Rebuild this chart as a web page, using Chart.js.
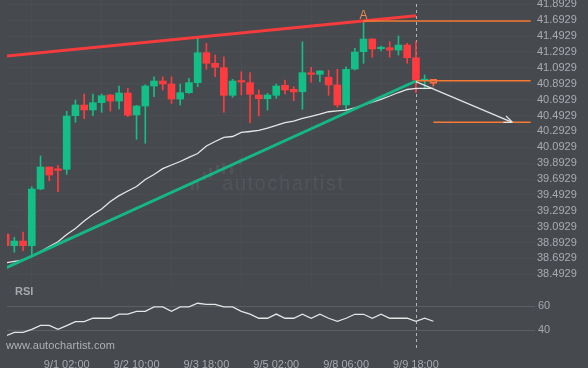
<!DOCTYPE html>
<html>
<head>
<meta charset="utf-8">
<script src="https://cdn.jsdelivr.net/npm/chart.js@4.4.0/dist/chart.umd.min.js"></script>
<style>
  html, body { margin: 0; padding: 0; background: #46494e; }
  #wrap { position: relative; width: 588px; height: 368px; overflow: hidden; background: #46494e;
          font-family: "Liberation Sans", Arial, sans-serif; }
  .box { position: absolute; left: 0; width: 588px; }
  #mainBox { top: 0; height: 285px; }
  #rsiBox { top: 285px; height: 83px; }
  .txt { position: absolute; white-space: nowrap; line-height: 1; }
  #rsiLbl { left: 15px; top: 286px; font-size: 11px; font-weight: bold; color: #a5a8ad; }
  #site { left: 6px; top: 340px; font-size: 11px; color: #aeb1b5; letter-spacing: 0.1px; }
  #wm { left: 222px; top: 173px; font-size: 20px; color: rgba(255,255,255,0.07); letter-spacing: 1.6px; }
  .wb { position: absolute; width: 3px; background: rgba(255,255,255,0.06); }
</style>
</head>
<body>
<div id="wrap">
  <!-- watermark -->
  <div class="wb" style="left:191px;top:182px;height:8px"></div>
  <div class="wb" style="left:196px;top:182px;height:8px"></div>
  <div class="wb" style="left:203px;top:172px;height:8px"></div>
  <div class="wb" style="left:209px;top:168px;height:11px"></div>
  <div class="wb" style="left:216px;top:165px;height:8px"></div>
  <div class="wb" style="left:222px;top:163px;height:11px"></div>
  <div class="wb" style="left:230px;top:167px;height:7px"></div>
  <div class="wb" style="left:239px;top:158px;height:7px"></div>
  <div class="txt" id="wm">autochartist</div>

  <div class="box" id="mainBox"><canvas id="mainChart" width="588" height="285"></canvas></div>
  <div class="box" id="rsiBox"><canvas id="rsiChart" width="588" height="83"></canvas></div>

  <div class="txt" id="rsiLbl">RSI</div>
  <div class="txt" id="site">www.autochartist.com</div>
</div>

<script>
  // time axis (one label every 8 candles)
  const timeIdx = [7, 15, 23, 31, 39, 47];
  const timeLabels = ["9/1 02:00", "9/2 10:00", "9/3 18:00", "9/5 02:00", "9/8 06:00", "9/9 18:00"];

  const priceTicks = [38.4929, 38.6929, 38.8929, 39.0929, 39.2929, 39.4929, 39.6929, 39.8929, 40.0929,
                      40.2929, 40.4929, 40.6929, 40.8929, 41.0929, 41.2929, 41.4929, 41.6929, 41.8929];
  const rsiTicks = [40, 60];

  // candles
  const openP = [39.000, 38.853, 38.912, 38.853, 39.567, 39.844, 39.813, 39.815, 40.490, 40.625,
                 40.562, 40.654, 40.751, 40.675, 40.776, 40.499, 40.612, 40.864, 40.927, 40.889,
                 40.700, 40.780, 40.906, 41.283, 41.150, 41.095, 40.747, 40.923, 40.906, 40.751,
                 40.704, 40.747, 40.873, 40.823, 40.792, 41.028, 41.011, 40.974, 40.877, 40.625,
                 41.078, 41.296, 41.456, 41.334, 41.346, 41.317, 41.380, 41.220, 40.931, 40.948];
  const highP = [39.005, 38.959, 39.026, 39.596, 39.983, 39.846, 39.865, 40.545, 40.688, 40.763,
                 40.763, 40.763, 40.760, 40.864, 40.835, 40.621, 40.880, 40.981, 40.981, 40.981,
                 40.889, 40.961, 41.465, 41.402, 41.254, 41.233, 40.948, 41.044, 41.032, 40.814,
                 40.772, 40.889, 40.940, 40.855, 41.422, 41.100, 41.058, 41.062, 41.074, 41.107,
                 41.339, 41.683, 41.460, 41.368, 41.422, 41.494, 41.402, 41.422, 41.003, 40.948];
  const lowP = [38.850, 38.770, 38.790, 38.727, 39.558, 39.672, 39.533, 39.752, 40.407, 40.452,
                40.490, 40.533, 40.549, 40.574, 40.477, 40.193, 40.143, 40.729, 40.814, 40.646,
                40.625, 40.772, 40.855, 41.074, 40.981, 40.533, 40.722, 40.751, 40.402, 40.486,
                40.562, 40.709, 40.763, 40.679, 40.571, 40.911, 40.918, 40.747, 40.596, 40.562,
                41.066, 41.150, 41.226, 41.305, 41.226, 41.254, 41.150, 40.780, 40.826, 40.864];
  const closeP = [38.853, 38.912, 38.853, 39.567, 39.844, 39.743, 39.802, 40.486, 40.625, 40.562,
                  40.654, 40.742, 40.675, 40.776, 40.495, 40.612, 40.864, 40.927, 40.889, 40.700,
                  40.780, 40.906, 41.283, 41.150, 41.100, 40.747, 40.927, 40.914, 40.760, 40.704,
                  40.751, 40.864, 40.814, 40.789, 41.032, 41.011, 41.053, 40.877, 40.625, 41.074,
                  41.292, 41.456, 41.330, 41.343, 41.317, 41.380, 41.220, 40.940, 40.936, 40.898];

  // moving average
  const ma = [38.638, 38.656, 38.670, 38.717, 38.780, 38.843, 38.902, 38.994, 39.070, 39.164,
              39.246, 39.315, 39.410, 39.483, 39.542, 39.599, 39.687, 39.750, 39.823, 39.869,
              39.913, 39.966, 40.014, 40.109, 40.165, 40.216, 40.228, 40.279, 40.291, 40.304,
              40.335, 40.367, 40.402, 40.423, 40.455, 40.483, 40.509, 40.540, 40.552, 40.559,
              40.590, 40.625, 40.660, 40.697, 40.738, 40.782, 40.820, 40.835, 40.835, 40.835];

  // RSI
  const rsi = [35.0, 38.1, 38.1, 40.6, 43.9, 43.9, 40.6, 43.6, 46.9, 46.9,
               49.8, 49.8, 49.8, 53.3, 53.3, 55.6, 55.6, 59.2, 59.2, 55.6,
               59.2, 59.2, 62.3, 61.4, 61.4, 59.2, 59.2, 55.6, 53.3, 49.8,
               49.8, 53.3, 49.8, 49.8, 53.1, 49.8, 53.1, 49.8, 47.3, 49.8,
               53.1, 53.1, 49.8, 53.1, 49.8, 49.8, 49.8, 47.3, 49.8, 47.3];

  // pattern lines
  const resistX = [0, 47];
  const resistY = [41.240, 41.749];
  const supportX = [0, 47];
  const supportY = [38.571, 40.927];
  const levelStart = [41, 47, 49];
  const levelEnd = [60.15, 60.15, 60.15];
  const levelY = [41.683, 40.931, 40.407];
  const arrowX = [47, 58.04];
  const arrowY = [40.918, 40.407];
  const patternIdx = 41;   // point "A"
  const signalIdx = 47;    // dashed vertical line

  const xMin = 0.16, xMax = 60.64;
  const upColor = "#12bf86", downColor = "#ff3b3f", hollowColor = "#ff6b3d";
  const lastIdx = openP.length - 1;

  Chart.defaults.font.family = '"Liberation Sans", Arial, sans-serif';
  Chart.defaults.animation = false;

  const idx = openP.map((v, i) => i);
  const candleColor = idx.map(i => closeP[i] >= openP[i] ? upColor : downColor);

  // dashed line at the signal candle
  const signalLine = {
    id: "signalLine",
    beforeDatasetsDraw(chart, args, opts) {
      const x = Math.round(chart.scales.x.getPixelForValue(signalIdx)) + 0.5;
      const ctx = chart.ctx;
      ctx.save();
      ctx.strokeStyle = "#b2b5b9";
      ctx.lineWidth = 1;
      ctx.setLineDash([3, 3]);
      ctx.beginPath();
      ctx.moveTo(x, opts.top);
      ctx.lineTo(x, chart.chartArea.bottom + opts.extra);
      ctx.stroke();
      ctx.restore();
    }
  };

  // arrow head and the "A" label
  const marks = {
    id: "marks",
    afterDatasetsDraw(chart) {
      const xs = chart.scales.x, ys = chart.scales.y, ctx = chart.ctx;
      const x0 = xs.getPixelForValue(arrowX[0]), y0 = ys.getPixelForValue(arrowY[0]);
      const x1 = xs.getPixelForValue(arrowX[1]), y1 = ys.getPixelForValue(arrowY[1]);
      const ang = Math.atan2(y1 - y0, x1 - x0);
      ctx.save();
      ctx.strokeStyle = "#e4e4e4";
      ctx.lineWidth = 1.3;
      ctx.beginPath();
      [-0.4, 0.4].forEach(d => {
        ctx.moveTo(x1, y1);
        ctx.lineTo(x1 - 9 * Math.cos(ang + d), y1 - 9 * Math.sin(ang + d));
      });
      ctx.stroke();

      ctx.fillStyle = "#ee8a4e";
      ctx.font = '12px "Liberation Sans", Arial, sans-serif';
      ctx.textAlign = "center";
      ctx.textBaseline = "alphabetic";
      ctx.fillText("A", xs.getPixelForValue(patternIdx), ys.getPixelForValue(highP[patternIdx]) - 2);
      ctx.restore();
    }
  };

  const barBase = { type: "bar", grouped: false, barPercentage: 1, categoryPercentage: 1, clip: 0 };
  const lineBase = { type: "line", pointRadius: 0, tension: 0, fill: false, clip: 0 };

  const levelSets = levelY.map((v, k) => Object.assign({}, lineBase, {
    data: [{ x: levelStart[k], y: v }, { x: levelEnd[k], y: v }],
    borderColor: "#f57a33", borderWidth: 1.5, order: 2
  }));

  new Chart(document.getElementById("mainChart"), {
    type: "bar",
    data: {
      datasets: [
        Object.assign({}, barBase, {
          data: idx.map(i => ({ x: i, y: [openP[i], closeP[i]] })),
          backgroundColor: idx.map(i => i === lastIdx ? "rgba(0,0,0,0)" : candleColor[i]),
          borderColor: idx.map(i => i === lastIdx ? hollowColor : candleColor[i]),
          borderWidth: idx.map(i => i === lastIdx ? 1 : 0),
          borderSkipped: false,
          maxBarThickness: 7,
          minBarLength: 1.5,
          order: 5
        }),
        Object.assign({}, barBase, {
          data: idx.map(i => ({ x: i, y: [Math.max(openP[i], closeP[i]), highP[i]] })),
          backgroundColor: idx.map(i => i === lastIdx ? hollowColor : candleColor[i]),
          maxBarThickness: 1,
          order: 6
        }),
        Object.assign({}, barBase, {
          data: idx.map(i => ({ x: i, y: [lowP[i], Math.min(openP[i], closeP[i])] })),
          backgroundColor: idx.map(i => i === lastIdx ? hollowColor : candleColor[i]),
          maxBarThickness: 1,
          order: 6
        }),
        Object.assign({}, lineBase, {
          data: idx.map(i => ({ x: i, y: ma[i] })),
          borderColor: "#e6e6e6", borderWidth: 1.3, order: 4
        }),
        Object.assign({}, lineBase, {
          data: supportX.map((x, k) => ({ x: x, y: supportY[k] })),
          borderColor: "#14b886", borderWidth: 3, order: 3
        }),
        Object.assign({}, lineBase, {
          data: resistX.map((x, k) => ({ x: x, y: resistY[k] })),
          borderColor: "#f53c3c", borderWidth: 3, order: 3
        }),
        ...levelSets,
        Object.assign({}, lineBase, {
          data: arrowX.map((x, k) => ({ x: x, y: arrowY[k] })),
          borderColor: "#e4e4e4", borderWidth: 1.3, order: 1
        })
      ]
    },
    options: {
      responsive: false,
      layout: { padding: { left: 7, right: 0, top: 0, bottom: 0 } },
      plugins: { legend: { display: false }, tooltip: { enabled: false }, signalLine: { top: 4, extra: 0 } },
      scales: {
        x: {
          type: "linear", min: xMin, max: xMax, offset: false,
          ticks: { display: false },
          grid: { color: "rgba(255,255,255,0.025)", drawTicks: false },
          border: { display: false },
          afterBuildTicks: s => { s.ticks = timeIdx.map(v => ({ value: v })); },
          afterFit: s => { s.height = 0; s.paddingLeft = 0; s.paddingRight = 0; }
        },
        y: {
          position: "right", min: 38.3581, max: 41.9471,
          ticks: { color: "#a9acb1", font: { size: 11 }, padding: 2, autoSkip: false,
                   callback: v => v.toFixed(4) },
          grid: { color: "rgba(255,255,255,0.025)", drawTicks: false },
          border: { display: false },
          afterBuildTicks: s => { s.ticks = priceTicks.map(v => ({ value: v })); },
          afterFit: s => { s.width = 53; s.paddingTop = 0; s.paddingBottom = 0; }
        }
      }
    },
    plugins: [signalLine, marks]
  });

  new Chart(document.getElementById("rsiChart"), {
    type: "line",
    data: {
      datasets: [Object.assign({}, lineBase, {
        data: idx.map(i => ({ x: i, y: rsi[i] })),
        borderColor: "#e6e6e6", borderWidth: 1.3
      })]
    },
    options: {
      responsive: false,
      layout: { padding: { left: 7, right: 0, top: 0, bottom: 0 } },
      plugins: { legend: { display: false }, tooltip: { enabled: false }, signalLine: { top: 0, extra: 2 } },
      scales: {
        x: {
          type: "linear", min: xMin, max: xMax, offset: false,
          ticks: { color: "#a6a9ae", font: { size: 11 }, padding: 2, maxRotation: 0, autoSkip: false,
                   callback: v => timeLabels[timeIdx.indexOf(v)] },
          grid: { display: false },
          border: { display: false },
          afterBuildTicks: s => { s.ticks = timeIdx.map(v => ({ value: v })); },
          afterFit: s => { s.height = 20; s.paddingLeft = 0; s.paddingRight = 0; }
        },
        y: {
          position: "right", min: 25, max: 77.5,
          ticks: { color: "#a6a9ae", font: { size: 11 }, padding: 3, autoSkip: false },
          grid: { color: "#5b5e63", drawTicks: false },
          border: { display: false },
          afterBuildTicks: s => { s.ticks = rsiTicks.map(v => ({ value: v })); },
          afterFit: s => { s.width = 53; s.paddingTop = 0; s.paddingBottom = 0; }
        }
      }
    },
    plugins: [signalLine]
  });
</script>
</body>
</html>
